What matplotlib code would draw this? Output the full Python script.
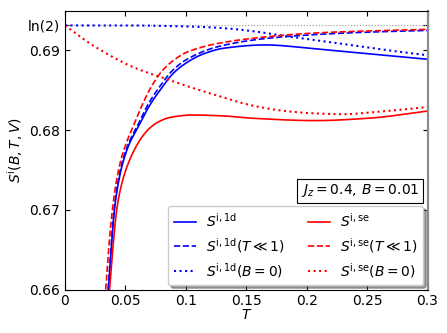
import numpy as np
import matplotlib
matplotlib.use("Agg")
import matplotlib.pyplot as plt

LN2 = np.log(2)

# values
T_1d = [0.0359, 0.0382, 0.0409, 0.0437, 0.0475, 0.0530, 0.0605, 0.0700, 0.0800, 0.0900,
        0.1020, 0.1150, 0.1320, 0.1657, 0.2072, 0.25, 0.30]
S_1d = [0.6600, 0.6650, 0.6700, 0.6730, 0.6757, 0.6782, 0.6804, 0.6831, 0.6853, 0.6872,
        0.6886, 0.6896, 0.6903, 0.6907, 0.6902, 0.6896, 0.6889]

T_1d_low = [0.0357, 0.0380, 0.0406, 0.0434, 0.0471, 0.0525, 0.0598, 0.0690, 0.0790, 0.0890,
            0.1010, 0.1270, 0.1657, 0.2072, 0.25, 0.30]
S_1d_low = [0.6600, 0.6650, 0.6700, 0.6731, 0.6758, 0.6783, 0.6805, 0.6833, 0.6856, 0.6875,
            0.6889, 0.6905, 0.6915, 0.6920, 0.6923, 0.69252]

T_1d_b0 = [0.0, 0.05, 0.10, 0.127, 0.1547, 0.1823, 0.2072, 0.2306, 0.2583, 0.30]
S_1d_b0 = [LN2, LN2, 0.69302, 0.69285, 0.69244, 0.6918, 0.6913, 0.6908, 0.6902, 0.6894]

T_se = [0.0369, 0.0395, 0.0428, 0.0465, 0.0520, 0.0594, 0.0650, 0.0704, 0.0780, 0.0870,
        0.1050, 0.1300, 0.1547, 0.2072, 0.2514, 0.30]
S_se = [0.6600, 0.6650, 0.6700, 0.6730, 0.6757, 0.6781, 0.6794, 0.6803, 0.6811, 0.6816,
        0.6819, 0.6818, 0.6815, 0.6812, 0.6815, 0.6824]

T_se_low = [0.0337, 0.0362, 0.0392, 0.0422, 0.0460, 0.0510, 0.0565, 0.0640, 0.0720, 0.0813,
            0.0910, 0.1010, 0.1270, 0.1657, 0.2072, 0.25, 0.30]
S_se_low = [0.6600, 0.6652, 0.6700, 0.6733, 0.6761, 0.6785, 0.6805, 0.6832, 0.6856, 0.6876,
            0.6889, 0.6898, 0.6909, 0.6917, 0.6922, 0.69245, 0.69265]

T_se_b0 = [0.0, 0.0235, 0.0566, 0.0843, 0.1036, 0.127, 0.1547, 0.1823, 0.2072, 0.2306, 0.2583, 0.30]
S_se_b0 = [LN2, 0.6906, 0.6879, 0.6864, 0.6854, 0.6843, 0.6831, 0.6824, 0.6821, 0.6820, 0.6823, 0.6829]

xticks = [0, 0.05, 0.1, 0.15, 0.2, 0.25, 0.3]
xticklabels = ["0", "0.05", "0.1", "0.15", "0.2", "0.25", "0.3"]
yticks = [0.66, 0.67, 0.68, 0.69, LN2]
yticklabels = ["0.66", "0.67", "0.68", "0.69", "ln(2)"]


def smooth(x, y, n=400):
    # monotone cubic (Fritsch-Carlson style) through the read-off points
    x = np.asarray(x, float); y = np.asarray(y, float)
    xs = np.linspace(x[0], x[-1], n)
    h = np.diff(x); d = np.diff(y) / h
    m = np.zeros_like(y)
    m[0] = d[0]; m[-1] = d[-1]
    for i in range(1, len(x) - 1):
        if d[i-1] * d[i] <= 0:
            m[i] = 0
        else:
            w1 = 2*h[i] + h[i-1]; w2 = h[i] + 2*h[i-1]
            m[i] = (w1 + w2) / (w1/d[i-1] + w2/d[i])
    idx = np.clip(np.searchsorted(x, xs) - 1, 0, len(x) - 2)
    t = (xs - x[idx]) / h[idx]
    h00 = 2*t**3 - 3*t**2 + 1; h10 = t**3 - 2*t**2 + t
    h01 = -2*t**3 + 3*t**2; h11 = t**3 - t**2
    ys = h00*y[idx] + h10*h[idx]*m[idx] + h01*y[idx+1] + h11*h[idx]*m[idx+1]
    return xs, ys


plt.rcParams["font.size"] = 10
fig = plt.figure(figsize=(4.47, 3.33), dpi=100)
ax = fig.add_axes([0.1454, 0.1306, 0.8110, 0.8374])

ax.axhline(LN2, color="0.6", lw=0.8, ls=":")

ax.plot(*smooth(T_1d, S_1d), color="blue", lw=1.2, label=r"$S^{\mathrm{i,1d}}$")
ax.plot(*smooth(T_1d_low, S_1d_low), color="blue", lw=1.2, ls="--", label=r"$S^{\mathrm{i,1d}}(T\ll1)$")
ax.plot(*smooth(T_1d_b0, S_1d_b0), color="blue", lw=1.5, ls=":", label=r"$S^{\mathrm{i,1d}}(B=0)$")
ax.plot(*smooth(T_se, S_se), color="red", lw=1.2, label=r"$S^{\mathrm{i,se}}$")
ax.plot(*smooth(T_se_low, S_se_low), color="red", lw=1.2, ls="--", label=r"$S^{\mathrm{i,se}}(T\ll1)$")
ax.plot(*smooth(T_se_b0, S_se_b0), color="red", lw=1.5, ls=":", label=r"$S^{\mathrm{i,se}}(B=0)$")

ax.set_xlim(0, 0.3)
ax.set_ylim(0.66, 0.695)
ax.set_xticks(xticks)
ax.set_xticklabels(xticklabels)
ax.set_yticks(yticks)
ax.set_yticklabels(yticklabels)
ax.tick_params(direction="in", top=True, right=True, labelsize=10)
ax.spines["right"].set_color("0.55")
ax.spines["right"].set_linewidth(1.6)

ax.set_xlabel(r"$T$", fontsize=10, labelpad=0)
ax.set_ylabel(r"$S^{\mathrm{i}}(B,T,V)$", fontsize=10, labelpad=2)

ax.text(0.978, 0.385, r"$J_z=0.4,\,B=0.01$", transform=ax.transAxes,
        ha="right", va="top", fontsize=10,
        bbox=dict(boxstyle="square,pad=0.25", fc="white", ec="black", lw=0.8))

ax.legend(loc="lower right", ncol=2, fontsize=10, fancybox=True, shadow=True,
          framealpha=1, handlelength=1.6, handletextpad=0.7, columnspacing=1.7,
          labelspacing=0.45, borderaxespad=0.3, borderpad=0.4)

fig.savefig("out.png", dpi=100)
